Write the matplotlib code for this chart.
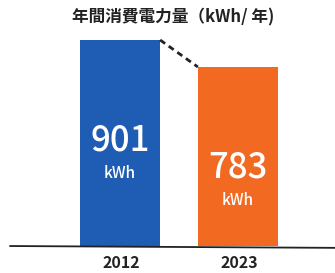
import matplotlib
matplotlib.use("Agg")
import matplotlib.pyplot as plt

plt.rcParams['font.family'] = ['Noto Sans CJK JP', 'DejaVu Sans']

years = ["2012", "2023"]
values = [901, 783]
colors = ["#1f5cb3", "#f26a22"]
unit = "kWh"
title = "年間消費電力量（kWh/ 年)"

fig = plt.figure(figsize=(3.35, 2.73), dpi=100)
ax = fig.add_axes([0, 0, 1, 1])
ax.set_xlim(-1.017, 1.822)
ax.set_ylim(-118, 1076)
ax.axis("off")

w = 0.68
xs = list(range(len(values)))
ax.bar(xs, values, width=w, color=colors, zorder=2)

# baseline
ax.plot([-0.93, 1.822], [0, -8], color="#222222", lw=1.3, zorder=3)

# dashed connector between bar tops
ax.plot([xs[0] + w / 2, xs[1] - w / 2], [values[0], values[1]],
        ls=(0, (2.2, 1.6)), color="#222222", lw=2, zorder=3)

for x, v, yr in zip(xs, values, years):
    ax.text(x, v - 440, str(v), ha="center", va="center", color="white",
            fontsize=25, fontweight="medium", zorder=4)
    ax.text(x, v - 585, unit, ha="center", va="center", color="white",
            fontsize=11, fontweight="medium", zorder=4)
    ax.text(x + 0.01, -75, yr, ha="center", va="center", color="#222222",
            fontsize=11.5, fontweight="bold")

fig.text(0.518, 0.935, title, ha="center", va="center", color="#222222",
         fontsize=12, fontweight="bold")

fig.savefig("out.png", dpi=100)
